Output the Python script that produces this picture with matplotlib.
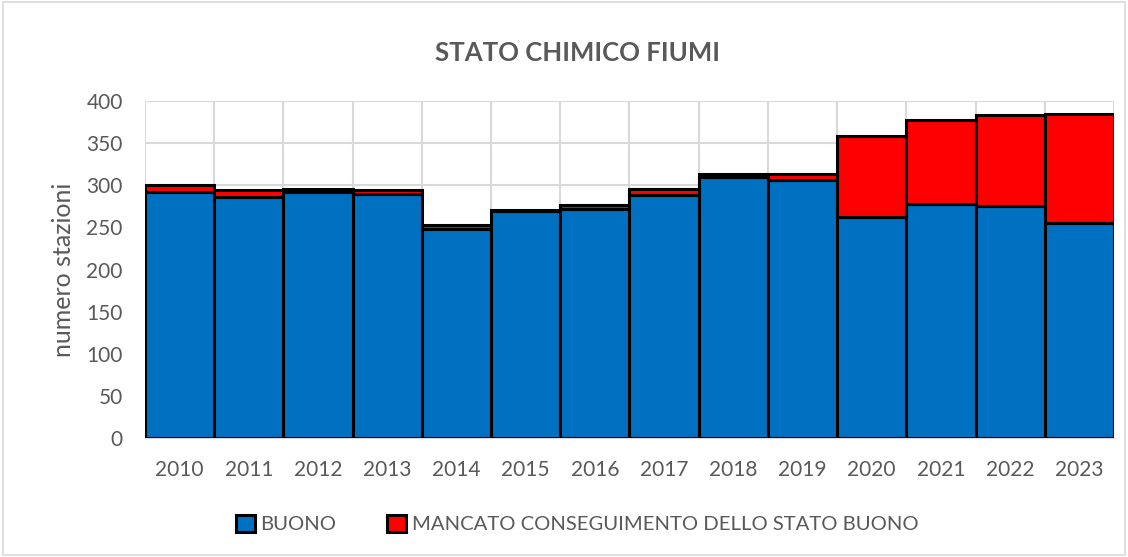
import numpy as np
import matplotlib
matplotlib.use("Agg")
import matplotlib.pyplot as plt
from matplotlib.patches import Rectangle

# data
anni = ["2010", "2011", "2012", "2013", "2014", "2015", "2016",
        "2017", "2018", "2019", "2020", "2021", "2022", "2023"]
buono = [292, 286, 292, 290, 248, 270, 272, 289, 310, 306, 262, 278, 275, 255]
mancato = [8, 8, 4, 4, 5, 1, 4, 6, 3, 7, 96, 100, 108, 130]

grigio = "#595959"
blu = "#0070C0"
rosso = "#FF0000"

plt.rcParams["font.family"] = ["Lato", "DejaVu Sans"]

fig = plt.figure(figsize=(11.28, 5.57), dpi=100)
ax = fig.add_axes([0.1285, 0.2136, 0.8591, 0.6051])

x = np.arange(len(anni))
ax.bar(x, buono, width=1.0, color=blu, edgecolor="black", linewidth=2.2,
       label="BUONO", zorder=3)
ax.bar(x, mancato, bottom=buono, width=1.0, color=rosso, edgecolor="black",
       linewidth=2.2, label="MANCATO CONSEGUIMENTO DELLO STATO BUONO", zorder=3)

ax.set_xlim(-0.5, len(anni) - 0.5)
ax.set_ylim(0, 400)
ax.set_yticks(range(0, 401, 50))
ax.set_xticks(x)
ax.set_xticklabels(anni)

# gridlines: horizontal on values, vertical between categories
ax.set_xticks(np.arange(-0.5, len(anni), 1), minor=True)
ax.grid(True, axis="y", which="major", color="#D9D9D9", linewidth=1.5, zorder=0)
ax.grid(True, axis="x", which="minor", color="#D9D9D9", linewidth=1.5, zorder=0)
ax.tick_params(axis="both", which="both", length=0, labelsize=15, colors=grigio)
ax.tick_params(axis="x", pad=16)
ax.tick_params(axis="y", pad=16)
for s in ["top", "right", "left"]:
    ax.spines[s].set_visible(False)
ax.spines["bottom"].set_color("#D9D9D9")

ax.set_ylabel("numero stazioni", fontsize=18, color=grigio, labelpad=8)

fig.text(0.512, 0.905, "STATO CHIMICO FIUMI", ha="center", va="center",
         fontsize=18.5, fontweight="bold", color=grigio)

leg = ax.legend(loc="center", bbox_to_anchor=(0.446, -0.255), ncol=2, frameon=False,
                fontsize=14.6, labelcolor=grigio, handlelength=0.95, handleheight=0.9,
                handletextpad=0.25, columnspacing=2.5)

# outer border of the chart area
fig.patches.append(Rectangle((0.003, 0.003), 0.994, 0.994, transform=fig.transFigure,
                             fill=False, edgecolor="#D9D9D9", linewidth=1.2))

fig.savefig("out.png", dpi=100)
